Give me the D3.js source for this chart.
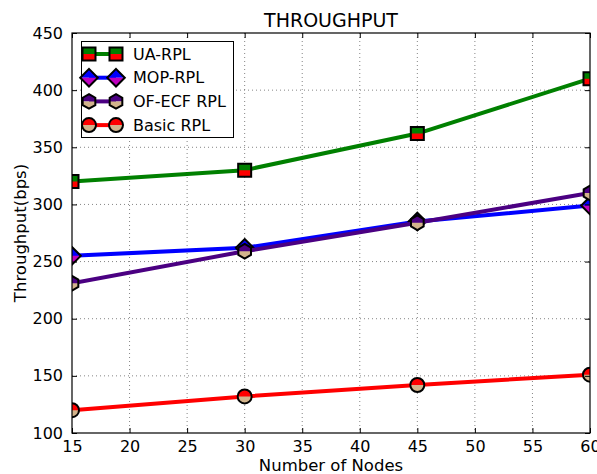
<!DOCTYPE html>
<html>
<head>
<meta charset="utf-8">
<script src="https://cdn.jsdelivr.net/npm/d3@7"></script>
<style>
body { margin: 0; background: #fff; }
text { font-family: "DejaVu Sans", sans-serif; fill: #000; }
</style>
</head>
<body>
<svg id="chart" width="597" height="474"></svg>
<script>
// data
var nodes = [15, 30, 45, 60]
var uaRpl = [320, 330, 362, 410]
var mopRpl = [255, 262, 285, 299]
var ofEcfRpl = [231, 259, 284, 310]
var basicRpl = [120, 132, 142, 151]
var seriesNames = ["UA-RPL", "MOP-RPL", "OF-ECF RPL", "Basic RPL"]
var xTicks = [15, 20, 25, 30, 35, 40, 45, 50, 55, 60]
var yTicks = [100, 150, 200, 250, 300, 350, 400, 450]

var series = [
  {name: seriesNames[0], values: uaRpl, color: "#008000", top: "#008000", bottom: "#ff0000", shape: "square"},
  {name: seriesNames[1], values: mopRpl, color: "#0000ff", top: "#0000ff", bottom: "#bf00bf", shape: "diamond"},
  {name: seriesNames[2], values: ofEcfRpl, color: "#4b0082", top: "#4b0082", bottom: "#d2b48c", shape: "hexagon"},
  {name: seriesNames[3], values: basicRpl, color: "#ff0000", top: "#ff0000", bottom: "#d2b48c", shape: "circle"}
]

var svg = d3.select("#chart")
var pl = 72, pr = 590, pt = 33, pb = 433
var w = pr - pl, h = pb - pt

var x = d3.scaleLinear().domain([15, 60]).range([pl, pr])
var y = d3.scaleLinear().domain([100, 450]).range([pb, pt])

var defs = svg.append("defs")
defs.append("clipPath").attr("id", "plotClip")
  .append("rect").attr("x", pl).attr("y", pt).attr("width", w).attr("height", h)
defs.append("clipPath").attr("id", "topHalf")
  .append("rect").attr("x", -20).attr("y", -20).attr("width", 40).attr("height", 20)
defs.append("clipPath").attr("id", "bottomHalf")
  .append("rect").attr("x", -20).attr("y", 0).attr("width", 40).attr("height", 20)

function shapePath(shape){
  var p = d3.path()
  if(shape == "square"){
    p.rect(-6.5, -6.5, 13, 13)
  }
  else if(shape == "diamond"){
    p.moveTo(0, -8.8); p.lineTo(8.8, 0); p.lineTo(0, 8.8); p.lineTo(-8.8, 0); p.closePath()
  }
  else if(shape == "hexagon"){
    for(var i = 0; i < 6; i++){
      var a = -Math.PI/2 + i*Math.PI/3
      if(i == 0) p.moveTo(7.3*Math.cos(a), 7.3*Math.sin(a))
      else p.lineTo(7.3*Math.cos(a), 7.3*Math.sin(a))
    }
    p.closePath()
  }
  else {
    p.arc(0, 0, 7, 0, 2*Math.PI)
  }
  return p.toString()
}

function drawMarker(g, s, cx, cy){
  var m = g.append("g").attr("transform", "translate(" + cx + "," + cy + ")")
  var d = shapePath(s.shape)
  m.append("path").attr("d", d).attr("fill", s.top).attr("clip-path", "url(#topHalf)")
  m.append("path").attr("d", d).attr("fill", s.bottom).attr("clip-path", "url(#bottomHalf)")
  m.append("path").attr("d", d).attr("fill", "none").attr("stroke", "#000").attr("stroke-width", 2)
}

// grid
var grid = svg.append("g")
xTicks.slice(1, -1).forEach(function(t){
  grid.append("line").attr("x1", x(t)).attr("x2", x(t)).attr("y1", pt).attr("y2", pb)
    .attr("stroke", "#666").attr("stroke-width", 0.8).attr("stroke-dasharray", "1,3")
})
yTicks.slice(1, -1).forEach(function(t){
  grid.append("line").attr("x1", pl).attr("x2", pr).attr("y1", y(t)).attr("y2", y(t))
    .attr("stroke", "#666").attr("stroke-width", 0.8).attr("stroke-dasharray", "1,3")
})

// lines and markers
var plot = svg.append("g").attr("clip-path", "url(#plotClip)")
var line = d3.line().x((d, i) => x(nodes[i])).y(d => y(d))
series.forEach(function(s){
  plot.append("path").datum(s.values).attr("d", line)
    .attr("fill", "none").attr("stroke", s.color).attr("stroke-width", 4)
  s.values.forEach(function(v, i){ drawMarker(plot, s, x(nodes[i]), y(v)) })
})

// frame and ticks (inward, all sides)
svg.append("rect").attr("x", pl).attr("y", pt).attr("width", w).attr("height", h)
  .attr("fill", "none").attr("stroke", "#000").attr("stroke-width", 1.2)

var axB = d3.axisBottom(x).tickValues(xTicks).tickSize(-5).tickPadding(8).tickFormat(d3.format("d"))
var axT = d3.axisTop(x).tickValues(xTicks).tickSize(-5).tickFormat("")
var axL = d3.axisLeft(y).tickValues(yTicks).tickSize(-5).tickPadding(9).tickFormat(d3.format("d"))
var axR = d3.axisRight(y).tickValues(yTicks).tickSize(-5).tickFormat("")

function styleAxis(g){
  g.select(".domain").remove()
  g.selectAll(".tick line").attr("stroke", "#000")
  g.selectAll("text").style("font-family", "DejaVu Sans").style("font-size", "16px").attr("fill", "#000")
}
svg.append("g").attr("transform", "translate(0," + pb + ")").call(axB).call(styleAxis)
svg.append("g").attr("transform", "translate(0," + pt + ")").call(axT).call(styleAxis)
svg.append("g").attr("transform", "translate(" + pl + ",0)").call(axL).call(styleAxis)
svg.append("g").attr("transform", "translate(" + pr + ",0)").call(axR).call(styleAxis)

// titles
svg.append("text").attr("x", (pl + pr)/2).attr("y", 27).attr("text-anchor", "middle")
  .style("font-size", "19px").text("THROUGHPUT")
svg.append("text").attr("x", (pl + pr)/2).attr("y", 471).attr("text-anchor", "middle")
  .style("font-size", "16.5px").text("Number of Nodes")
svg.append("text").attr("transform", "translate(26," + ((pt + pb)/2) + ") rotate(-90)")
  .attr("text-anchor", "middle").style("font-size", "16.5px").text("Throughput(bps)")

// legend
var lg = svg.append("g")
lg.append("rect").attr("x", 81.5).attr("y", 41.5).attr("width", 152).attr("height", 96)
  .attr("fill", "#fff").attr("stroke", "#000").attr("stroke-width", 1)
series.forEach(function(s, i){
  var ly = 54 + i*23.7
  lg.append("line").attr("x1", 89).attr("x2", 116).attr("y1", ly).attr("y2", ly)
    .attr("stroke", s.color).attr("stroke-width", 4)
  drawMarker(lg, s, 89, ly)
  drawMarker(lg, s, 116, ly)
  lg.append("text").attr("x", 133).attr("y", ly + 5.5).style("font-size", "16px").text(s.name)
})
</script>
</body>
</html>
